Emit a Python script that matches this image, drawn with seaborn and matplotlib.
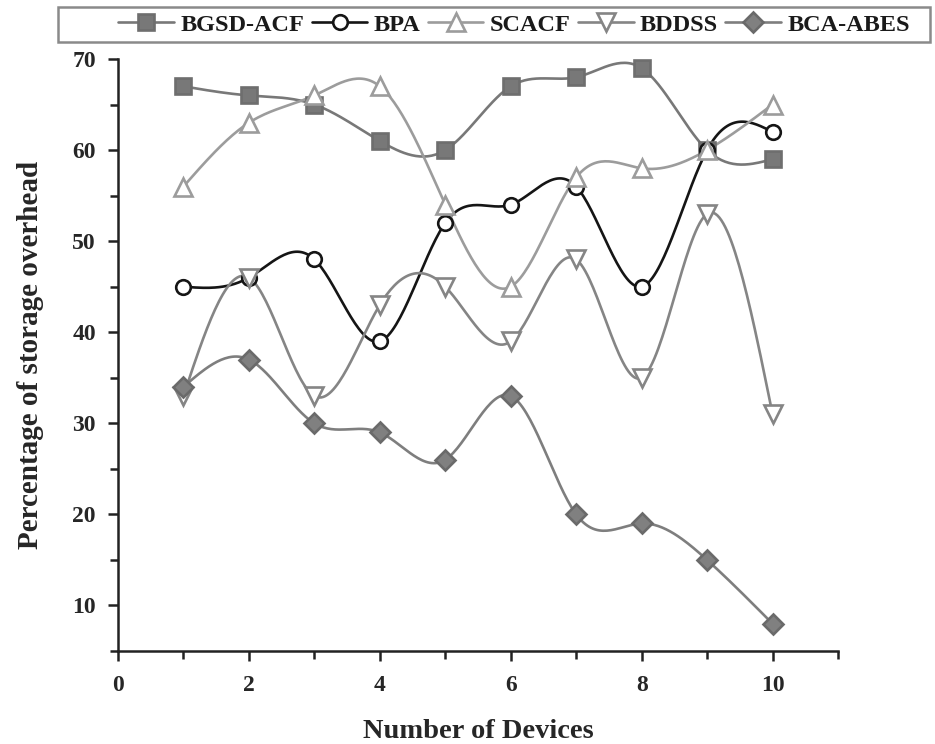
import numpy as np
import pandas as pd
import matplotlib
matplotlib.use("Agg")
import matplotlib.pyplot as plt
from matplotlib.lines import Line2D
from matplotlib.patches import Rectangle
from matplotlib.ticker import MultipleLocator
import seaborn as sns

devices = [1, 2, 3, 4, 5, 6, 7, 8, 9, 10]
bgsd_acf = [67, 66, 65, 61, 60, 67, 68, 69, 60, 59]
bpa = [45, 46, 48, 39, 52, 54, 56, 45, 60, 62]
scacf = [56, 63, 66, 67, 54, 45, 57, 58, 60, 65]
bddss = [33, 46, 33, 43, 45, 39, 48, 35, 53, 31]
bca_abes = [34, 37, 30, 29, 26, 33, 20, 19, 15, 8]
series_names = ["BGSD-ACF", "BPA", "SCACF", "BDDSS", "BCA-ABES"]
series_values = [bgsd_acf, bpa, scacf, bddss, bca_abes]
x_ticks = [0, 2, 4, 6, 8, 10]
y_ticks = [10, 20, 30, 40, 50, 60, 70]

styles = {
    "BGSD-ACF": dict(color="#787878", marker="s", ms=11.5, mfc="#787878", mec="#6e6e6e"),
    "BPA": dict(color="#151515", marker="o", ms=10.5, mfc="white", mec="#151515"),
    "SCACF": dict(color="#9c9c9c", marker="^", ms=12.5, mfc="white", mec="#9c9c9c"),
    "BDDSS": dict(color="#858585", marker="v", ms=12.5, mfc="white", mec="#858585"),
    "BCA-ABES": dict(color="#7e7e7e", marker="D", ms=10.5, mfc="#808080", mec="#6a6a6a"),
}


def natural_spline(x, y, num=300):
    x = np.asarray(x, float)
    y = np.asarray(y, float)
    n = len(x)
    h = np.diff(x)
    A = np.zeros((n, n))
    b = np.zeros(n)
    A[0, 0] = 1
    A[-1, -1] = 1
    for i in range(1, n - 1):
        A[i, i - 1] = h[i - 1]
        A[i, i] = 2 * (h[i - 1] + h[i])
        A[i, i + 1] = h[i]
        b[i] = 6 * ((y[i + 1] - y[i]) / h[i] - (y[i] - y[i - 1]) / h[i - 1])
    M = np.linalg.solve(A, b)
    xs = np.linspace(x[0], x[-1], num)
    idx = np.clip(np.searchsorted(x, xs) - 1, 0, n - 2)
    x0, x1 = x[idx], x[idx + 1]
    hh = x1 - x0
    t0 = x1 - xs
    t1 = xs - x0
    ys = (M[idx] * t0 ** 3 / (6 * hh) + M[idx + 1] * t1 ** 3 / (6 * hh)
          + (y[idx] / hh - M[idx] * hh / 6) * t0
          + (y[idx + 1] / hh - M[idx + 1] * hh / 6) * t1)
    return xs, ys


sns.set_style("ticks")
plt.rcParams["font.family"] = ["Liberation Serif", "DejaVu Serif"]
plt.rcParams["font.weight"] = "bold"

fig = plt.figure(figsize=(9.35, 7.44), dpi=100)
ax = fig.add_axes([118 / 935, 1 - 651 / 744, 720 / 935, 592 / 744])

handles = []
for name, vals in zip(series_names, series_values):
    st = styles[name]
    xs, ys = natural_spline(devices, vals)
    smooth = pd.DataFrame({"x": xs, "y": ys})
    pts = pd.DataFrame({"x": devices, "y": vals})
    sns.lineplot(data=smooth, x="x", y="y", ax=ax, color=st["color"],
                 linewidth=1.9, estimator=None, sort=False)
    ax.plot(pts["x"], pts["y"], linestyle="none", marker=st["marker"],
            markersize=st["ms"], markerfacecolor=st["mfc"],
            markeredgecolor=st["mec"], markeredgewidth=1.9, zorder=3)
    handles.append(Line2D([0], [0], color=st["color"], linewidth=1.9,
                          marker=st["marker"], markersize=st["ms"],
                          markerfacecolor=st["mfc"], markeredgecolor=st["mec"],
                          markeredgewidth=1.9))

ax.set_xlim(0, 11)
ax.set_ylim(5, 70)
ax.set_xticks(x_ticks)
ax.set_yticks(y_ticks)
ax.xaxis.set_minor_locator(MultipleLocator(1))
ax.yaxis.set_minor_locator(MultipleLocator(5))
for side in ["top", "right"]:
    ax.spines[side].set_visible(False)
for side in ["left", "bottom"]:
    ax.spines[side].set_linewidth(1.8)
    ax.spines[side].set_color("#222222")
ax.tick_params(axis="both", which="both", direction="out", length=7,
               width=1.8, color="#222222", labelsize=17)
ax.tick_params(axis="both", which="minor", length=6)
ax.tick_params(axis="x", which="major", pad=10)
ax.tick_params(axis="y", which="major", pad=9)
for lbl in ax.get_xticklabels() + ax.get_yticklabels():
    lbl.set_fontweight("bold")

ax.set_xlabel("Number of Devices", fontsize=20.5, fontweight="bold", labelpad=17)
ax.set_ylabel("Percentage of storage overhead", fontsize=21, fontweight="bold", labelpad=20)

fig.patches.append(Rectangle((58 / 935, 1 - 42 / 744), 872 / 935, 35 / 744,
                             transform=fig.transFigure, fill=False,
                             edgecolor="#8a8a8a", linewidth=1.8))
leg = fig.legend(handles, series_names, loc="center", ncol=5,
                 bbox_to_anchor=(514 / 935, 1 - 24.5 / 744), frameon=False,
                 fontsize=17.5, handlelength=2.3,
                 handletextpad=0.25, columnspacing=0.3, borderpad=0.25)
for t in leg.get_texts():
    t.set_fontweight("bold")
    t.set_color("#1a1a1a")

fig.savefig("out.png", dpi=100)
